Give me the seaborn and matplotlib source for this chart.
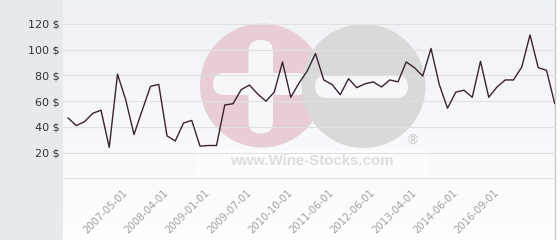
import numpy as np
import pandas as pd
import matplotlib
matplotlib.use("Agg")
import matplotlib.pyplot as plt
from matplotlib.patches import Rectangle, Circle, FancyBboxPatch
import seaborn as sns

# ---- data ----
prices = [47, 41, 44, 50.5, 53, 24, 81, 61, 34, 53,
          71.5, 73, 33, 29, 43, 45, 25, 25.5, 25.5, 57,
          58, 69, 72.5, 65.5, 60, 67, 90.5, 63, 74, 83.5,
          97, 76.5, 73, 65, 77.5, 70.5, 73.5, 75, 71, 76.5,
          75, 90.5, 86, 79.5, 101, 73, 54.5, 67, 68.5, 63,
          91, 63, 71, 76.5, 76.5, 86.5, 111.5, 86, 84, 58]
x_tick_labels = ["2007-05-01", "2008-04-01", "2009-01-01", "2009-07-01",
                 "2010-10-01", "2011-06-01", "2012-06-01", "2013-04-01",
                 "2014-06-01", "2016-09-01"]
y_tick_values = [0, 20, 40, 60, 80, 100, 120]
y_tick_labels = ["", "20 $", "40 $", "60 $", "80 $", "100 $", "120 $"]
watermark_text = "www.Wine-Stocks.com"

df = pd.DataFrame({"idx": np.arange(len(prices)), "price": prices})

sns.set_theme(style="white")
plt.rcParams['font.family'] = ['DejaVu Sans']

W, H = 560, 240
fig = plt.figure(figsize=(W / 100, H / 100), dpi=100)

# ---- background / decoration axes in pixel coordinates ----
bg = fig.add_axes([0, 0, 1, 1])
bg.set_xlim(0, W)
bg.set_ylim(H, 0)
bg.axis("off")
bg.add_patch(Rectangle((0, 0), W, H, color="white", zorder=0))
bg.add_patch(Rectangle((0, 0), 63, H, color="#e6eaee", zorder=1))
grad = np.linspace(0, 1, 256).reshape(-1, 1)
top = np.array([0.937, 0.945, 0.962])
bot = np.array([0.995, 0.995, 1.0])
img = top[None, None, :] * (1 - grad[:, :, None]) + bot[None, None, :] * grad[:, :, None]
bg.imshow(img, extent=[63, 555, H, 0], aspect="auto", zorder=1)
bg.plot([555, 555], [0, H], color="#c8c8c8", lw=1.0, zorder=2)

# watermark logo
bg.add_patch(Circle((262, 85.5), 62, color="#e8cdd5", zorder=3, lw=0))
bg.add_patch(FancyBboxPatch((248.5, 40), 24.5, 93.5,
                            boxstyle="round,pad=0,rounding_size=12",
                            color="#f7f7f9", zorder=4, lw=0))
bg.add_patch(FancyBboxPatch((213, 73), 95, 22,
                            boxstyle="round,pad=0,rounding_size=11",
                            color="#f7f7f9", zorder=4, lw=0))
bg.add_patch(Circle((363.5, 86), 62, color="#d9d9d9", zorder=5, lw=0))
bg.add_patch(FancyBboxPatch((315, 75), 93, 23,
                            boxstyle="round,pad=0,rounding_size=11.5",
                            color="#f7f7f9", zorder=6, lw=0))
bg.add_patch(Rectangle((197, 150), 231, 25, color="white", alpha=0.55,
                       zorder=6, lw=0))
bg.text(312, 161, watermark_text, ha="center", va="center",
        fontsize=10.8, fontweight="bold", family="Liberation Sans",
        color="#dddddd", zorder=7)
bg.text(413, 140, "®", ha="center", va="center", fontsize=10,
        fontweight="bold", family="Liberation Sans",
        color="#d2d2d2", zorder=7)

# ---- plot axes ----
px_left, px_right, px_top, px_bot = 63, 555, 0, 182
x0_px, dx_px = 68, 8.25          # first point pixel, step per point
y0_px, dy_px = 178.3, 154.3 / 120  # zero line pixel, pixels per unit

ax = fig.add_axes([px_left / W, (H - px_bot) / H,
                   (px_right - px_left) / W, (px_bot - px_top) / H])
ax.set_facecolor("none")
ax.patch.set_alpha(0)

sns.lineplot(data=df, x="idx", y="price", ax=ax, color="#3a2233",
             linewidth=1.0, zorder=5)

ax.set_xlim((px_left - x0_px) / dx_px, (px_right - x0_px) / dx_px)
ax.set_ylim((y0_px - px_bot) / dy_px, (y0_px - px_top) / dy_px)

ax.set_yticks(y_tick_values)
ax.set_yticklabels(y_tick_labels)
ax.set_xticks([7 + 5 * k for k in range(len(x_tick_labels))])
ax.set_xticklabels(x_tick_labels, rotation=45, ha="right", va="center",
                   rotation_mode="anchor")

ax.yaxis.grid(True, color="#e0e0e0", linewidth=0.8)
ax.xaxis.grid(False)
for s in ax.spines.values():
    s.set_visible(False)
ax.tick_params(axis="y", length=0, pad=2.2, labelsize=8, labelcolor="#333333")
ax.tick_params(axis="x", length=0, pad=6.5, labelsize=7.2, labelcolor="#a0a0a0")
ax.set_xlabel("")
ax.set_ylabel("")
for gl in ax.get_ygridlines():
    gl.set_clip_on(False)

fig.savefig("out.png", dpi=100)
